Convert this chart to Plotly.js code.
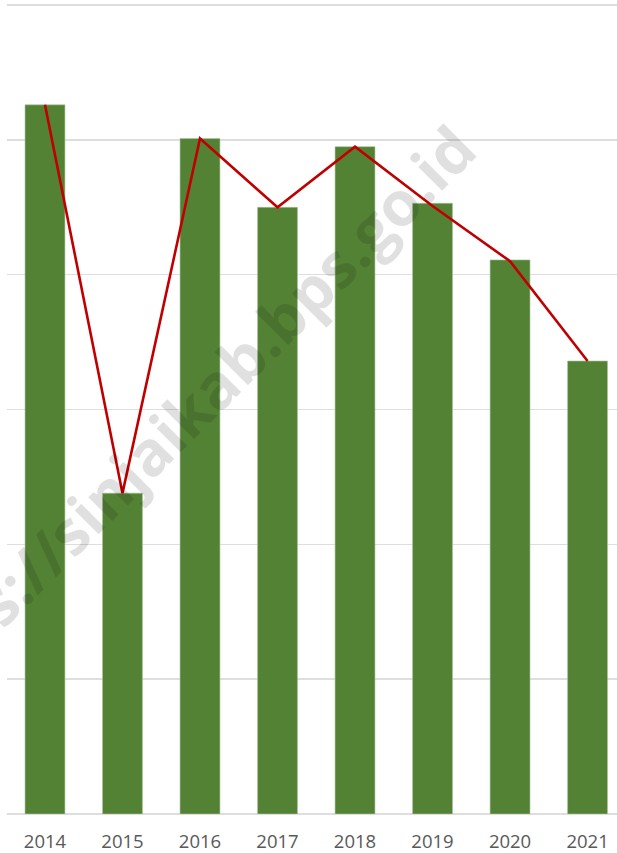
<!DOCTYPE html>
<html>
<head>
<meta charset="utf-8">
<script src="https://cdn.plot.ly/plotly-3.0.1.min.js"></script>
<style>
html,body{margin:0;padding:0;background:#fff;overflow:hidden;}
#chart{width:617px;height:853px;}
</style>
</head>
<body>
<div id="chart"></div>
<script>
var years = ['2014','2015','2016','2017','2018','2019','2020','2021'];
var barValues = [5.26, 2.38, 5.01, 4.50, 4.95, 4.53, 4.11, 3.36];
var lineValues = [5.26, 2.38, 5.01, 4.50, 4.95, 4.51, 4.10, 3.36];
var watermark = 'https://sinjaikab.bps.go.id';

var bars = {
  type: 'bar',
  x: years,
  y: barValues,
  marker: {color: '#548235', line: {color: '#a9c49a', width: 0.6}},
  hoverinfo: 'x+y',
  showlegend: false
};
var line = {
  type: 'scatter',
  mode: 'lines',
  x: years,
  y: lineValues,
  line: {color: '#C00000', width: 2.6},
  hoverinfo: 'x+y',
  showlegend: false
};

var layout = {
  width: 617,
  height: 853,
  margin: {l: 7, r: 0, t: 4, b: 39},
  paper_bgcolor: '#ffffff',
  plot_bgcolor: '#ffffff',
  bargap: 0.485,
  xaxis: {
    type: 'category',
    range: [-0.49, 7.38],
    showgrid: false,
    zeroline: false,
    showline: false,
    ticks: '',
    ticklabelstandoff: 14,
    tickfont: {family: 'Open Sans, Noto Sans, sans-serif', size: 18.5, color: '#595959'}
  },
  yaxis: {
    range: [0, 6.008],
    dtick: 1,
    tick0: 0,
    showgrid: true,
    gridcolor: '#dedede',
    gridwidth: 1.5,
    zeroline: true,
    zerolinecolor: '#dedede',
    zerolinewidth: 1.5,
    showticklabels: false,
    ticks: '',
    fixedrange: true
  },
  annotations: [{
    text: '<b>' + watermark + '</b>',
    xref: 'paper', yref: 'paper',
    x: 0.279, y: 0.484,
    xanchor: 'center', yanchor: 'middle',
    showarrow: false,
    textangle: -45,
    font: {family: 'Open Sans, Noto Sans, sans-serif', size: 62, color: 'rgba(0,0,0,0.12)'}
  }]
};

Plotly.newPlot('chart', [bars, line], layout, {displayModeBar: false, staticPlot: true});
</script>
</body>
</html>
